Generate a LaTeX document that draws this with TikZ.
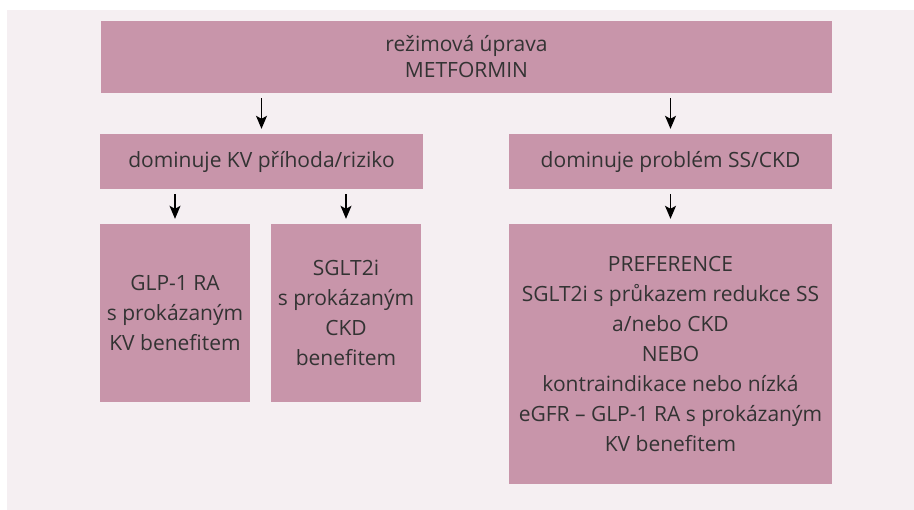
\documentclass[tikz,border=0pt]{standalone}
\usepackage{fontspec}
\setmainfont{Open Sans}
\usetikzlibrary{arrows.meta}
\definecolor{boxfill}{HTML}{C895AA}
\definecolor{panel}{HTML}{F5EFF2}
\definecolor{ink}{HTML}{333333}
\tikzset{
	box/.style={fill=boxfill, inner sep=0pt, align=center, text=ink,
		font=\fontsize{21}{30}\selectfont},
	link/.style={->, line width=1.2pt, shorten <=5pt, shorten >=5pt},
}
\begin{document}
\begin{tikzpicture}[x=1pt, y=-1pt, >={Stealth[length=13pt,width=11pt,inset=3pt]}]
	\useasboundingbox (0,0) rectangle (914,510);
	\fill[panel] (7,10) rectangle (914,510);
	% boxes
	\node[box, minimum width=731pt, minimum height=72pt, font=\fontsize{21}{26}\selectfont] (top) at (466.5,57) {režimová úprava\\METFORMIN};
	\node[box, minimum width=323pt, minimum height=55pt] (kv) at (261.5,161.5) {dominuje KV příhoda/riziko};
	\node[box, minimum width=323pt, minimum height=55pt] (ss) at (670.5,161.5) {dominuje problém SS/CKD};
	\node[box, minimum width=150pt, minimum height=178pt] (glp) at (175,313) {GLP-1 RA\\s prokázaným\\KV benefitem};
	\node[box, minimum width=150pt, minimum height=178pt] (sglt) at (346,313) {SGLT2i\\s prokázaným\\CKD\\benefitem};
	\node[box, minimum width=323pt, minimum height=260pt] (pref) at (670.5,354) {PREFERENCE\\SGLT2i s průkazem redukce SS\\a/nebo CKD\\NEBO\\kontraindikace nebo nízká\\eGFR – GLP-1 RA s prokázaným\\KV benefitem};
	% arrows
	\draw[link] (top.south -| kv.north) -- (kv.north);
	\draw[link] (top.south -| ss.north) -- (ss.north);
	\draw[link] (kv.south -| glp.north) -- (glp.north);
	\draw[link] (kv.south -| sglt.north) -- (sglt.north);
	\draw[link] (ss.south) -- (pref.north);
\end{tikzpicture}
\end{document}
